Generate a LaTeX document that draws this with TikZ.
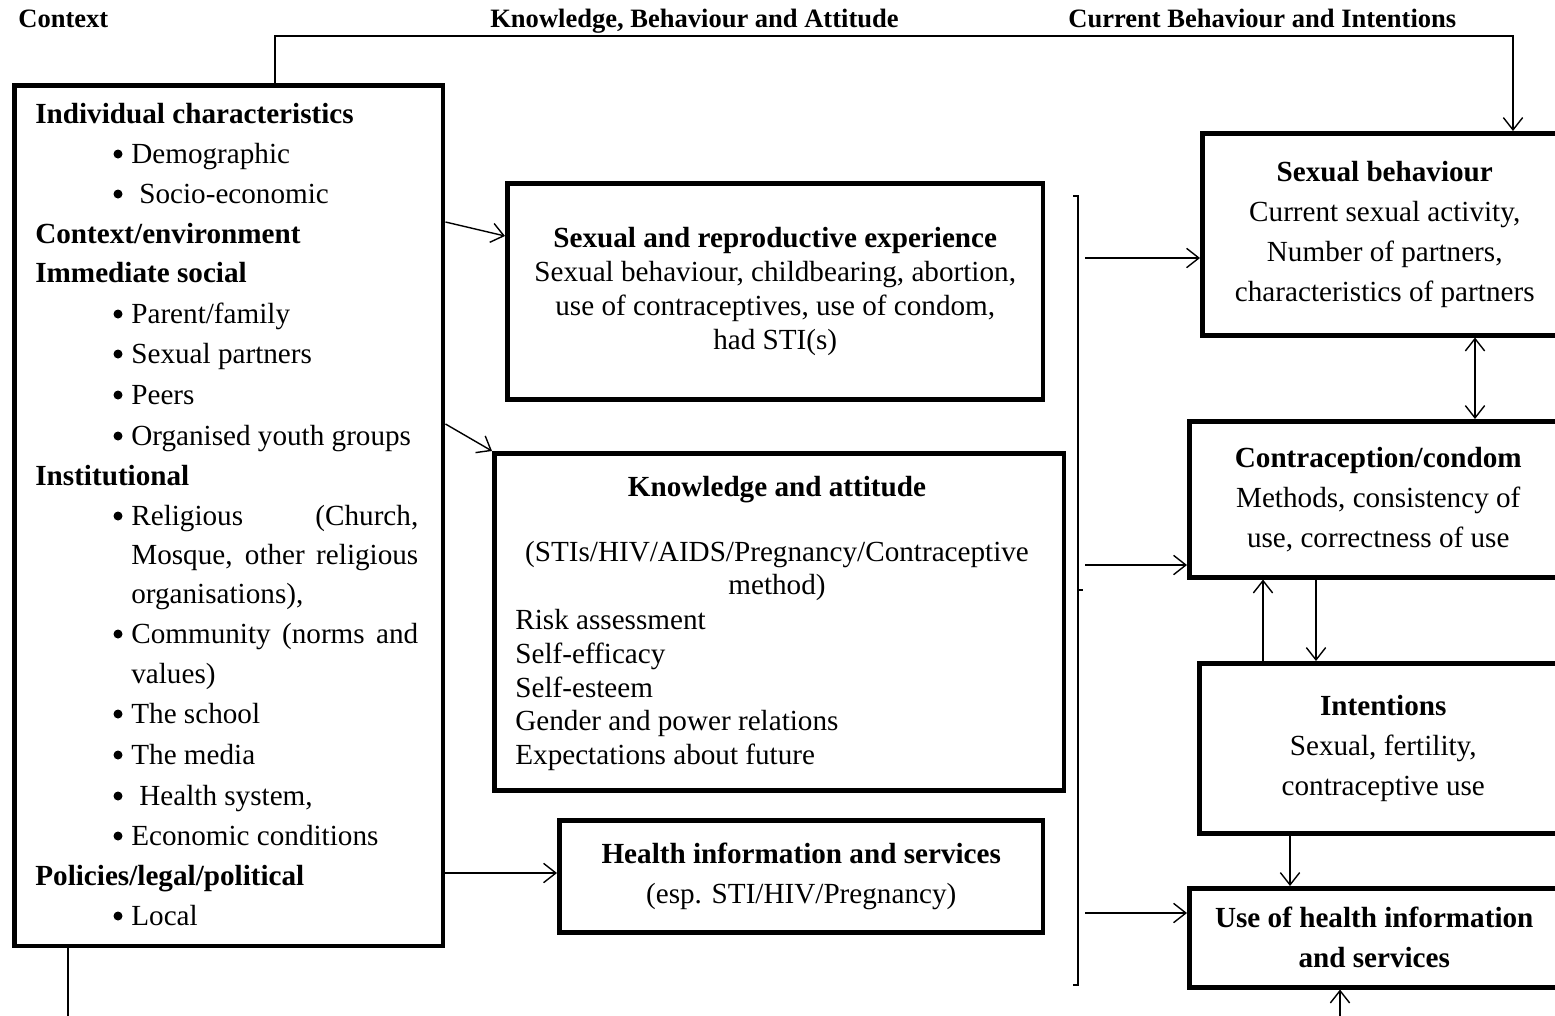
\documentclass[tikz,border=0pt]{standalone}
\usepackage{fontspec}
\setmainfont{Liberation Serif}
\usepackage{tikz}
\usetikzlibrary{arrows.meta,positioning}
\newcommand{\bodyfont}{\fontsize{16.6}{22.8}\selectfont}
\newcommand{\tightfont}{\fontsize{16.6}{19.3}\selectfont}
\newcommand{\headfont}{\fontsize{15.1}{17}\selectfont\bfseries}
\tikzset{
  box/.style={draw, rectangle, line width=2.6pt, inner sep=0pt, anchor=north west, align=center},
  link/.style={line width=0.8pt, -{Straight Barb[length=7pt,width=11pt]}},
  txt/.style={inner sep=0pt, anchor=west, text height=0.7em, text depth=0.2em, yshift=-0.1cm},
  bul/.style={circle, fill, inner sep=0pt, minimum size=0.18cm},
}

\begin{document}
\begin{tikzpicture}[x=0.02cm, y=-0.02cm, font=\bodyfont]
    \useasboundingbox (0,0) rectangle (1555,1015);
    \clip (0,0) rectangle (1555,1015);

    % Column headings
    \node[txt, font=\headfont] (hctx) at (18,18) {Context};
    \node[txt, font=\headfont] (hkba) at (490,18) {Knowledge, Behaviour and Attitude};
    \node[txt, font=\headfont] (hcbi) at (1068,18) {Current Behaviour and Intentions};

    % Context box
    \node[box, minimum width=8.58cm, minimum height=17.22cm] (ctx) at (12,83) {};
    \foreach \y/\t in {114/{Individual characteristics}, 234/{Context/environment},
                       273/{Immediate social}, 476/{Institutional}, 876/{Policies/legal/political}}
        \node[txt, font=\bodyfont\bfseries] (h\y) at (35,\y) {\t};
    \foreach \y in {154,194,314,354,395,436,516,634,714,755,796,836,916}
        \node[bul] (b\y) at (118,\y) {};
    \foreach \y/\x/\t in {154/131/Demographic, 194/139/Socio-economic, 314/131/{Parent/family},
                          354/131/{Sexual partners}, 395/131/Peers, 436/131/{Organised youth groups},
                          594/131/{organisations),}, 674/131/{values)}, 714/131/{The school},
                          755/131/{The media}, 796/139/{Health system,}, 836/131/{Economic conditions},
                          916/131/Local}
        \node[txt] (t\y) at (\x,\y) {\t};
    \node[txt] (t516) at (131,516) {\makebox[5.74cm][s]{Religious (Church,}};
    \node[txt] (t555) at (131,555) {\makebox[5.74cm][s]{Mosque, other religious}};
    \node[txt] (t634) at (131,634) {\makebox[5.74cm][s]{Community (norms and}};

    % Knowledge, behaviour and attitude
    \node[box, font=\tightfont, minimum width=10.72cm, minimum height=4.32cm] (sre) at (505,181)
        {\textbf{Sexual and reproductive experience}\\
         Sexual behaviour, childbearing, abortion,\\
         use of contraceptives, use of condom,\\
         had STI(s)};
    \node[box, minimum width=11.4cm, minimum height=6.74cm] (ka) at (492,451) {};
    \node[font=\bodyfont\bfseries, inner sep=0pt] (ka-t) at (777,490) {Knowledge and attitude};
    \node[font=\tightfont, align=center, inner sep=0pt] (ka-s) at (777,571)
        {(STIs/HIV/AIDS/Pregnancy/Contraceptive\\ method)};
    \node[font=\tightfont, align=left, inner sep=0pt, anchor=west] (ka-l) at (515,690)
        {Risk assessment\\ Self-efficacy\\ Self-esteem\\ Gender and power relations\\ Expectations about future};
    \node[box, minimum width=9.68cm, minimum height=2.24cm] (his) at (557,818)
        {\textbf{Health information and services}\\ (esp. STI/HIV/Pregnancy)};

    % Current behaviour and intentions
    \node[box, minimum width=7.3cm, minimum height=4.04cm] (sb) at (1200,131)
        {\textbf{Sexual behaviour}\\ Current sexual activity,\\ Number of partners,\\ characteristics of partners};
    \node[box, minimum width=7.56cm, minimum height=3.12cm] (cc) at (1187,419)
        {\textbf{Contraception/condom}\\ Methods, consistency of\\ use, correctness of use};
    \node[box, minimum width=7.36cm, minimum height=3.4cm] (int) at (1197,661)
        {\textbf{Intentions}\\ Sexual, fertility,\\ contraceptive use};
    \node[box, font=\bodyfont\bfseries, minimum width=7.4cm, minimum height=1.98cm] (use) at (1187,886)
        {Use of health information\\ and services};
    \draw[line width=2.6pt] (use.north east) -- (1580,886) (use.south east) -- (1580,985);

    % Bracket
    \draw[line width=0.8pt] (1073,196) -- (1078,196) -- (1078,985) -- (1073,985);
    \draw[line width=0.8pt] (1078,590) -- (1083,590);
    \coordinate (o1) at (1085,258);
    \coordinate (o2) at (1085,565);
    \coordinate (o3) at (1085,913);

    % Connectors
    \draw[link] (ctx.north -| 275,0) |- (1513,36) -- (sb.north -| 1513,0);
    \draw[link] (ctx.east |- 0,222) -- (sre.west |- 0,236);
    \draw[link] (ctx.east |- 0,424) -- (ka.north west);
    \draw[link] (ctx.east |- 0,873) -- (his.west |- 0,873);
    \draw[line width=0.8pt] (ctx.south -| 68,0) -- (68,1030);
    \draw[link] (o1) -- (sb.west |- o1);
    \draw[link] (o2) -- (cc.west |- o2);
    \draw[link] (o3) -- (use.west |- o3);
    \draw[link, {Straight Barb[length=7pt,width=11pt]}-{Straight Barb[length=7pt,width=11pt]}]
        (sb.south -| 1475,0) -- (cc.north -| 1475,0);
    \draw[link] (cc.south -| 1316,0) -- (int.north -| 1316,0);
    \draw[link] (int.north -| 1263,0) -- (cc.south -| 1263,0);
    \draw[link] (int.south -| 1290,0) -- (use.north -| 1290,0);
    \draw[link] (1340,1030) -- (use.south -| 1340,0);
\end{tikzpicture}
\end{document}
